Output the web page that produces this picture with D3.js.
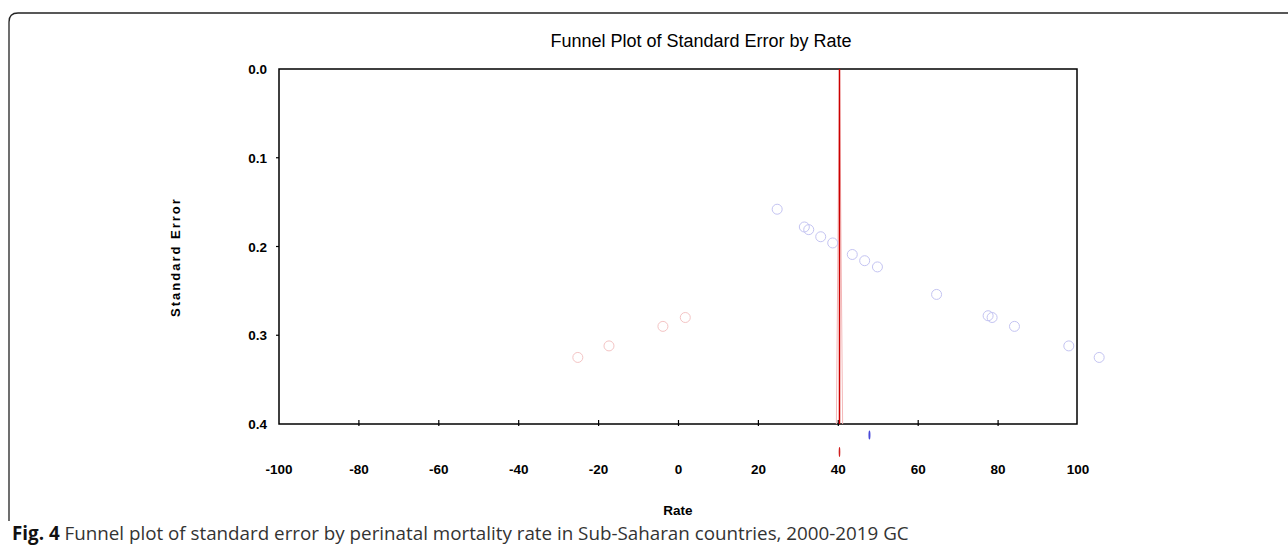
<!DOCTYPE html>
<html><head><meta charset="utf-8">
<script src="https://cdn.jsdelivr.net/npm/d3@7/dist/d3.min.js"></script>
<style>html,body{margin:0;padding:0;background:#fff;overflow:hidden}</style>
</head><body>
<svg id="c" width="1288" height="548"></svg>
<script>
const xTicks = [-100,-80,-60,-40,-20,0,20,40,60,80,100];
const yTicks = [0.0,0.1,0.2,0.3,0.4];
const observedRate = [24.7,31.5,32.6,35.6,38.6,43.5,46.6,49.8,64.6,77.5,78.5,84.1,97.7,105.3];
const observedSE   = [0.158,0.178,0.181,0.189,0.196,0.209,0.216,0.223,0.254,0.278,0.280,0.290,0.312,0.325];
const imputedRate  = [-25.2,-17.4,-3.9,1.7];
const imputedSE    = [0.325,0.312,0.290,0.280];
const observedMean = 47.8;
const adjustedMean = 40.3;
const title = "Funnel Plot of Standard Error by Rate";
const xLabel = "Rate";
const yLabel = "Standard Error";
const captionBold = "Fig. 4";
const captionText = " Funnel plot of standard error by perinatal mortality rate in Sub-Saharan countries, 2000-2019 GC";

const svg = d3.select("#c");
const x = d3.scaleLinear().domain([-100,100]).range([279,1078]);
const y = d3.scaleLinear().domain([0,0.4]).range([69,424]);

// outer rounded frame (left side ends above caption)
svg.append("path").attr("d","M9,521 L9,22 Q9,13 18,13 L1300,13")
  .attr("fill","none").attr("stroke","#222").attr("stroke-width",1.3);

svg.append("text").attr("x",701).attr("y",47).attr("text-anchor","middle")
  .attr("font-family","Liberation Sans, Arial, sans-serif").attr("font-size",18).text(title);

// plot box
svg.append("rect").attr("x",x(-100)).attr("y",y(0)).attr("width",x(100)-x(-100)-1).attr("height",y(0.4)-y(0))
  .attr("fill","none").attr("stroke","#000").attr("stroke-width",1.5);

const fontAx = "Liberation Sans, Arial, sans-serif";
// x axis ticks (crossing the bottom line)
svg.append("g").selectAll("line").data(xTicks.slice(1,-1)).join("line")
  .attr("x1",d=>x(d)).attr("x2",d=>x(d)).attr("y1",y(0.4)-4).attr("y2",y(0.4)+2)
  .attr("stroke","#000").attr("stroke-width",1.2);
svg.append("g").selectAll("text").data(xTicks).join("text")
  .attr("x",d=>x(d)).attr("y",474).attr("text-anchor","middle")
  .attr("font-family",fontAx).attr("font-size",13.5).attr("font-weight","bold").text(d=>d);

// y ticks
svg.append("g").selectAll("line").data(yTicks.slice(1,-1)).join("line")
  .attr("x1",x(-100)-3).attr("x2",x(-100)).attr("y1",d=>y(d)).attr("y2",d=>y(d))
  .attr("stroke","#000").attr("stroke-width",1.2);
svg.append("g").selectAll("text").data(yTicks).join("text")
  .attr("x",267).attr("y",d=>y(d)+5).attr("text-anchor","end")
  .attr("font-family",fontAx).attr("font-size",13.5).attr("font-weight","bold").text(d=>d.toFixed(1));

svg.append("text").attr("transform","translate(180,257) rotate(-90)").attr("text-anchor","middle")
  .attr("font-family",fontAx).attr("font-size",13).attr("letter-spacing",2).attr("font-weight","bold").text(yLabel);
svg.append("text").attr("x",678).attr("y",515).attr("text-anchor","middle")
  .attr("font-family",fontAx).attr("font-size",13.5).attr("font-weight","bold").text(xLabel);

// funnel lines around adjusted mean
const z = 1.96;
[-1,1].forEach(s=>{
  svg.append("line").attr("x1",x(adjustedMean)).attr("y1",y(0))
    .attr("x2",x(adjustedMean+s*z*0.4)).attr("y2",y(0.4))
    .attr("stroke","#f4b8b8").attr("stroke-width",1);
});
svg.append("line").attr("x1",x(adjustedMean)).attr("x2",x(adjustedMean)).attr("y1",y(0)).attr("y2",y(0.4))
  .attr("stroke","#cc0000").attr("stroke-width",1.5);

// points
svg.append("g").selectAll("circle").data(observedRate).join("circle")
  .attr("cx",d=>x(d)).attr("cy",(d,i)=>y(observedSE[i])).attr("r",5)
  .attr("fill","none").attr("stroke","#c4c4f2").attr("stroke-width",1);
svg.append("g").selectAll("circle").data(imputedRate).join("circle")
  .attr("cx",d=>x(d)).attr("cy",(d,i)=>y(imputedSE[i])).attr("r",5)
  .attr("fill","none").attr("stroke","#f4c4c4").attr("stroke-width",1);

// mean markers below axis
svg.append("ellipse").attr("cx",x(observedMean)).attr("cy",435).attr("rx",1).attr("ry",4.5).attr("fill","#4a4ad8");
svg.append("ellipse").attr("cx",x(adjustedMean)).attr("cy",452).attr("rx",0.8).attr("ry",5).attr("fill","#d02020");

// caption
const cap = svg.append("text").attr("x",12).attr("y",540)
  .attr("font-family","Open Sans, Noto Sans, sans-serif").attr("font-size",18.8).attr("fill","#333");
cap.append("tspan").attr("font-weight","bold").attr("fill","#111").text(captionBold);
cap.append("tspan").text(captionText);
</script>
</body></html>
